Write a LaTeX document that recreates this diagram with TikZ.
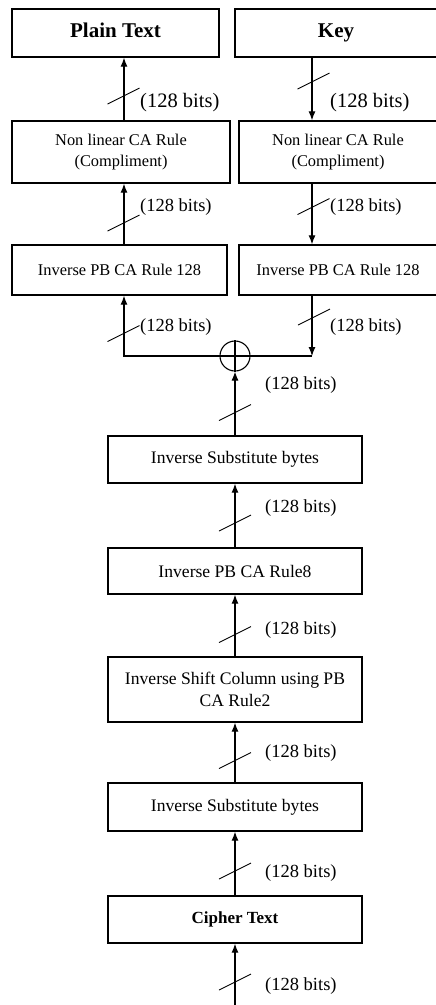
\documentclass[tikz,border=0pt]{standalone}
\usepackage{fontspec}
\setmainfont{Liberation Serif}
\usetikzlibrary{arrows.meta}
\begin{document}
\begin{tikzpicture}[x=1pt,y=-1pt,
  box/.style={draw, line width=1.4pt, rectangle, inner sep=0pt, align=center},
  title/.style={font=\bfseries\fontsize{21}{24}\selectfont, text height=14pt, text depth=5pt},
  small/.style={font=\fontsize{16.4}{21}\selectfont},
  mid/.style={font=\fontsize{17.6}{22}\selectfont},
  conn/.style={line width=1.1pt, -{Latex[length=9pt,width=7pt]}},
  plainline/.style={line width=1.1pt},
  lbl/.style={anchor=west, inner sep=0pt, font=\fontsize{18.5}{20}\selectfont},
  lblbig/.style={anchor=west, inner sep=0pt, font=\fontsize{20.5}{22}\selectfont},
  slash/.pic={\draw[line width=0.9pt] (-16,8) -- (16,-8);}
]
\path[use as bounding box, fill=white] (0,0) rectangle (436,1005);

% columns
\coordinate (cl) at (124,0);
\coordinate (cr) at (312,0);
\coordinate (bot) at (235,1005);

% top row
\node[box, title, minimum width=207, minimum height=48] (pt) at (115.5,33) {Plain Text};
\node[box, title, minimum width=202, minimum height=48] (key) at (336,33) {Key};

\node[box, small, minimum width=218, minimum height=62] (nll) at (121,152) {Non linear CA Rule\\(Compliment)};
\node[box, small, minimum width=198, minimum height=62] (nlr) at (338,152) {Non linear CA Rule\\(Compliment)};

\node[box, small, minimum width=215, minimum height=50] (ipbl) at (119.5,270) {Inverse PB CA Rule 128};
\node[box, small, minimum width=198, minimum height=50] (ipbr) at (338,270) {Inverse PB CA Rule 128};

\node[circle, draw, line width=1.1pt, minimum size=30, inner sep=0pt] (xor) at (235,356) {};
\draw[line width=1.1pt] (xor.north) -- (xor.south);
\draw[line width=1.1pt] (xor.west) -- (xor.east);

\node[box, mid, minimum width=254, minimum height=47] (is1) at (235,459.5) {Inverse Substitute bytes};
\node[box, mid, minimum width=254, minimum height=46] (ipb8) at (235,571) {Inverse PB CA Rule8};
\node[box, mid, minimum width=254, minimum height=65] (isc) at (235,689.5) {Inverse Shift Column using PB\\CA Rule2};
\node[box, mid, minimum width=254, minimum height=48] (is2) at (235,807) {Inverse Substitute bytes};
\node[box, font=\bfseries\fontsize{17}{20}\selectfont, minimum width=254, minimum height=47] (ct) at (235,919.5) {Cipher Text};

% connectors
\draw[conn] (nll.north -| cl) -- (pt.south -| cl);
\draw[conn] (key.south -| cr) -- (nlr.north -| cr);
\draw[conn] (ipbl.north -| cl) -- (nll.south -| cl);
\draw[conn] (nlr.south -| cr) -- (ipbr.north -| cr);
\draw[conn] (xor.west) -- (xor.west -| cl) -- (ipbl.south -| cl);
\draw[conn] (ipbr.south -| cr) -- (xor.east -| cr);
\draw[plainline] (xor.east -| cr) -- (xor.east);
\draw[conn] (is1.north) -- (xor.south);
\draw[conn] (ipb8.north) -- (is1.south);
\draw[conn] (isc.north) -- (ipb8.south);
\draw[conn] (is2.north) -- (isc.south);
\draw[conn] (ct.north) -- (is2.south);
\draw[conn] (bot) -- (ct.south);

% bus slashes
\pic at (123.5,96) {slash};
\pic at (313.5,81) {slash};
\pic at (123.5,223) {slash};
\pic at (313.5,206.5) {slash};
\pic at (123.5,333.5) {slash};
\pic at (314,317) {slash};
\pic at (235,412.5) {slash};
\pic at (235,523) {slash};
\pic at (235,634.5) {slash};
\pic at (235,760.5) {slash};
\pic at (235,871) {slash};
\pic at (235,982) {slash};

% labels
\node[lblbig] (b1) at (140,103) {(128 bits)};
\node[lblbig] (b2) at (330,103) {(128 bits)};
\node[lbl] (b3) at (140,207) {(128 bits)};
\node[lbl] (b4) at (330,207) {(128 bits)};
\node[lbl] (b5) at (140,327) {(128 bits)};
\node[lbl] (b6) at (330,327) {(128 bits)};
\node[lbl] (b7) at (265,385) {(128 bits)};
\node[lbl] (b8) at (265,508) {(128 bits)};
\node[lbl] (b9) at (265,630) {(128 bits)};
\node[lbl] (b10) at (265,753) {(128 bits)};
\node[lbl] (b11) at (265,873) {(128 bits)};
\node[lbl] (b12) at (265,986) {(128 bits)};
\end{tikzpicture}
\end{document}
